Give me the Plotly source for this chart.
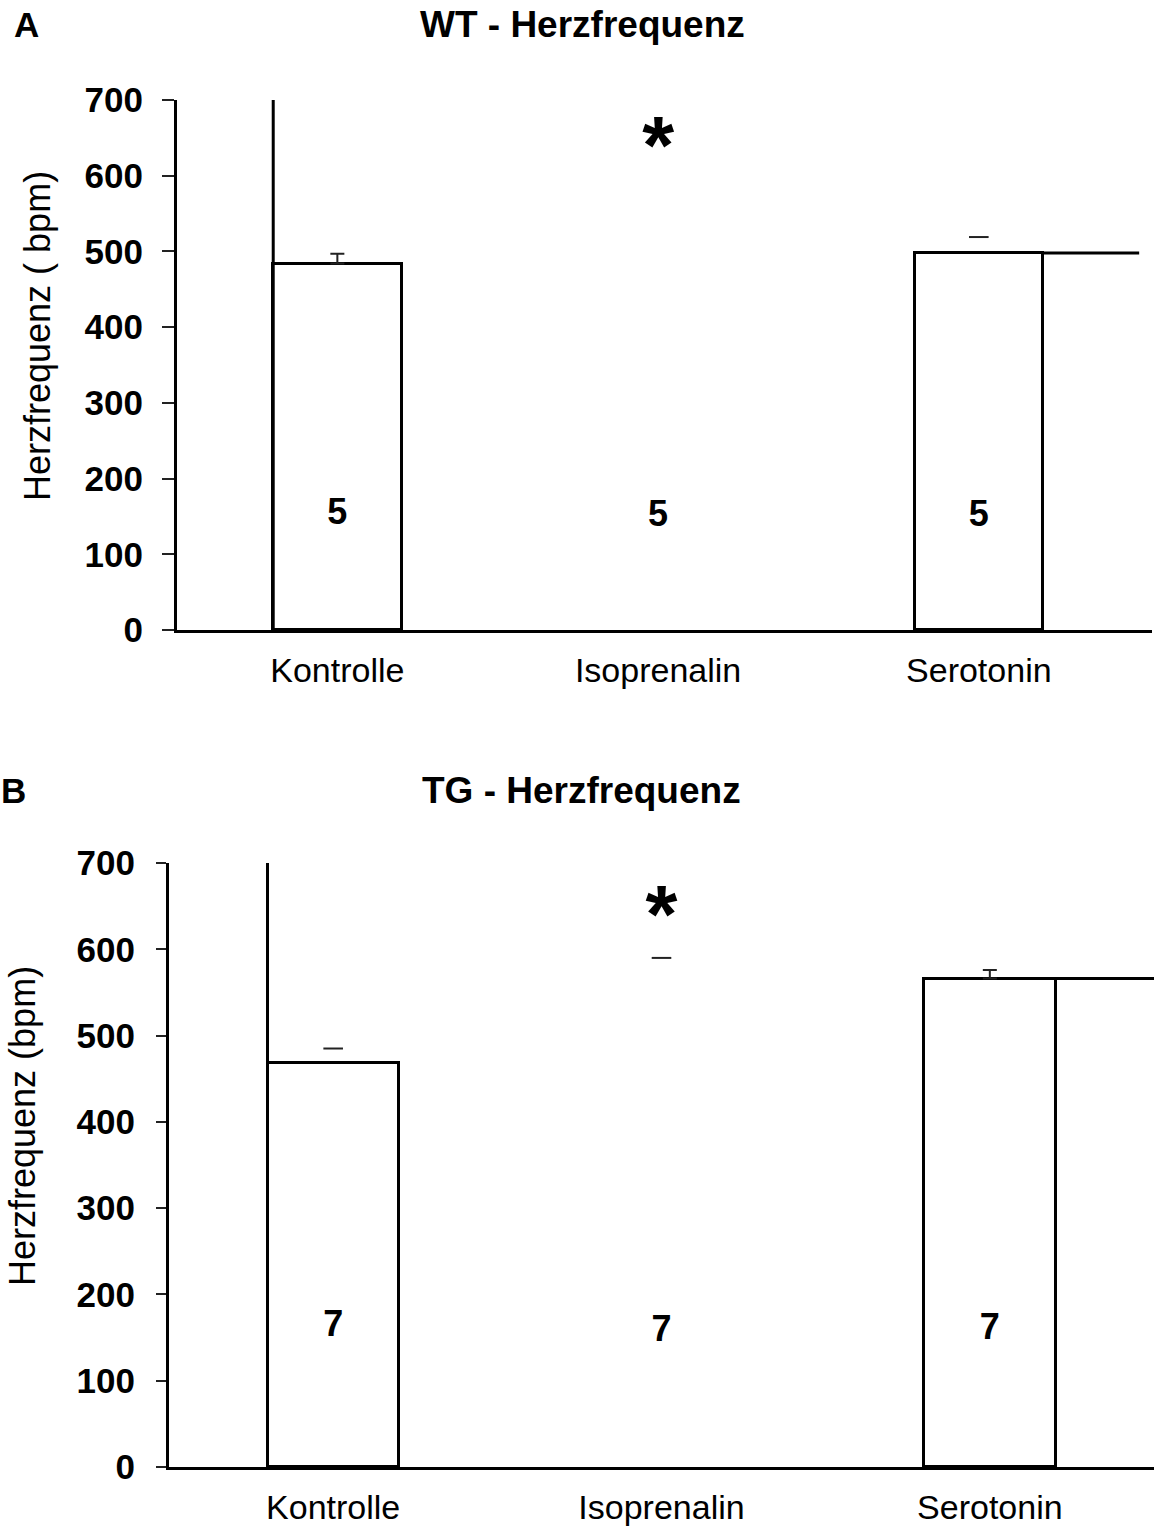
import plotly.graph_objects as go

# Treatment groups
categories = ["Kontrolle", "Isoprenalin", "Serotonin"]
n_labels_wt = ["5", "5", "5"]
n_labels_tg = ["7", "7", "7"]

# Heart rate (bpm): mean and SEM per group
wt_mean = [484, 615, 498]
wt_sem = [13, 0, 21]
tg_mean = [468, 575, 566]
tg_sem = [17, 15, 10]

y_ticks = [0, 100, 200, 300, 400, 500, 600, 700]
y_max = 700

W, H = 1154, 1526
FONT = "Liberation Sans, Arial, sans-serif"
BAR_W = 0.4
xpos = [0, 1, 2]


def px_x(p):
    return p / W


def px_y(p):
    return 1 - p / H


fig = go.Figure()


def add_panel(xa, ya, mean, sem, labels, show_bar, stem_visible, label_y, star_y):
    xref = "x" if xa == 1 else f"x{xa}"
    yref = "y" if ya == 1 else f"y{ya}"
    # outlined white bars (Isoprenalin bar without outline)
    fig.add_trace(go.Bar(
        x=xpos, y=mean, width=BAR_W,
        marker=dict(color="white",
                    line=dict(color=["black" if s else "white" for s in show_bar],
                              width=[3 if s else 0 for s in show_bar])),
        xaxis=xref, yaxis=yref, showlegend=False, hoverinfo="skip",
    ))
    # SEM with visible stem
    idx = [i for i in range(3) if stem_visible[i]]
    fig.add_trace(go.Scatter(
        x=[xpos[i] for i in idx], y=[mean[i] for i in idx], mode="markers",
        marker=dict(size=1, color="rgba(0,0,0,0)"),
        error_y=dict(type="data", symmetric=False,
                     array=[sem[i] for i in idx], arrayminus=[0] * len(idx),
                     color="#222", thickness=2, width=7),
        xaxis=xref, yaxis=yref, showlegend=False, hoverinfo="skip",
    ))
    # SEM caps only
    idx2 = [i for i in range(3) if not stem_visible[i] and sem[i] > 0]
    fig.add_trace(go.Scatter(
        x=[xpos[i] for i in idx2], y=[mean[i] + sem[i] for i in idx2], mode="markers",
        marker=dict(symbol="line-ew", size=14, line=dict(color="#222", width=2)),
        xaxis=xref, yaxis=yref, showlegend=False, hoverinfo="skip",
    ))
    # left edge of the control bar running up to the axis top
    fig.add_trace(go.Scatter(
        x=[xpos[0] - BAR_W / 2] * 2, y=[0, y_max], mode="lines",
        line=dict(color="black", width=3),
        xaxis=xref, yaxis=yref, showlegend=False, hoverinfo="skip",
    ))
    # serotonin level continued to the right end
    fig.add_trace(go.Scatter(
        x=[xpos[2] + BAR_W / 2, 2.5], y=[mean[2]] * 2, mode="lines",
        line=dict(color="black", width=3),
        xaxis=xref, yaxis=yref, showlegend=False, hoverinfo="skip",
    ))
    # group sizes
    fig.add_trace(go.Scatter(
        x=xpos, y=label_y, mode="text", text=labels,
        textfont=dict(family=FONT, size=36, color="black", weight="bold"),
        xaxis=xref, yaxis=yref, showlegend=False, hoverinfo="skip",
    ))
    # significance marker
    fig.add_trace(go.Scatter(
        x=[xpos[1]], y=[star_y], mode="text", text=["*"],
        textfont=dict(family=FONT, size=82, color="black", weight="bold"),
        xaxis=xref, yaxis=yref, showlegend=False, hoverinfo="skip",
    ))


add_panel(1, 1, wt_mean, wt_sem, n_labels_wt,
          [True, False, True], [True, False, False], [152, 149, 149], 631)
add_panel(2, 2, tg_mean, tg_sem, n_labels_tg,
          [True, False, True], [False, False, True], [162, 157, 159], 632)

xaxis_common = dict(
    tickmode="array", tickvals=xpos, ticktext=categories,
    showline=True, linecolor="black", linewidth=3,
    ticks="", showgrid=False, zeroline=False,
    tickfont=dict(family=FONT, size=34, color="black"),
    ticklabelstandoff=8, fixedrange=True,
)
yaxis_common = dict(
    range=[0, y_max], tickmode="array", tickvals=y_ticks,
    showline=True, linecolor="black", linewidth=3,
    ticks="outside", tickwidth=2, tickcolor="#222",
    showgrid=False, zeroline=False,
    tickfont=dict(family=FONT, size=35, color="black", weight="bold"),
    fixedrange=True,
)

fig.update_layout(
    width=W, height=H,
    margin=dict(l=0, r=0, t=0, b=0, autoexpand=False),
    paper_bgcolor="white", plot_bgcolor="white",
    bargap=0,
    xaxis=dict(**xaxis_common, domain=[px_x(177), px_x(1152)], range=[-0.5, 2.54], anchor="y"),
    yaxis=dict(**yaxis_common, domain=[px_y(630), px_y(100)], anchor="x",
               ticklen=12, ticklabelstandoff=12),
    xaxis2=dict(**xaxis_common, domain=[px_x(169), 1.0], range=[-0.5, 2.5], anchor="y2"),
    yaxis2=dict(**yaxis_common, domain=[px_y(1467), px_y(863)], anchor="x2",
                ticklen=10, ticklabelstandoff=14),
)

annotations = [
    dict(text="<b>A</b>", x=px_x(26), y=px_y(25), size=35),
    dict(text="<b>WT - Herzfrequenz</b>", x=px_x(582), y=px_y(25), size=37),
    dict(text="<b>B</b>", x=px_x(13), y=px_y(790), size=35),
    dict(text="<b>TG - Herzfrequenz</b>", x=px_x(581), y=px_y(790), size=37),
]
for a in annotations:
    fig.add_annotation(text=a["text"], x=a["x"], y=a["y"], xref="paper", yref="paper",
                       xanchor="center", yanchor="middle", showarrow=False,
                       font=dict(family=FONT, size=a["size"], color="black"))

for txt, x, y in [("Herzfrequenz ( bpm)", 37, 336), ("Herzfrequenz (bpm)", 22, 1126)]:
    fig.add_annotation(text=txt, x=px_x(x), y=px_y(y), xref="paper", yref="paper",
                       xanchor="center", yanchor="middle", textangle=-90, showarrow=False,
                       font=dict(family=FONT, size=36, color="black"))

fig.write_html("out.html")
